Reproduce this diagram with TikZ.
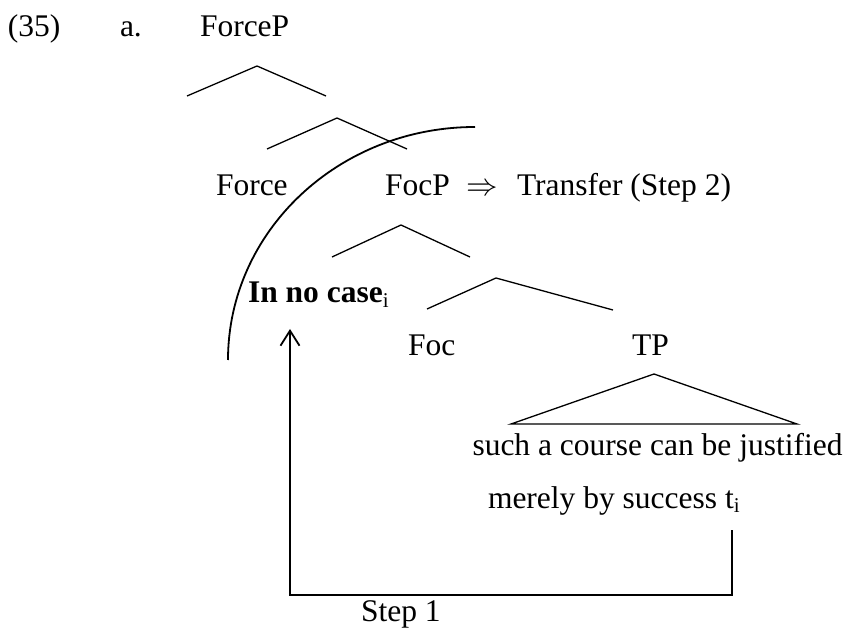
\RequirePackage{fix-cm}
\documentclass[tikz,border=0pt]{standalone}
\usepackage{fontspec}
\setmainfont{Liberation Serif}
\usetikzlibrary{arrows.meta}
% small lowered index, as on traces and moved phrases
\newcommand\idxsub[1]{\raisebox{-4.5pt}{\fontsize{21}{22}\mdseries\selectfont #1}}
\begin{document}
\begin{tikzpicture}[x=1pt,y=-1pt,
  lbl/.style={anchor=base west,inner sep=0pt,outer sep=0pt,
              font=\fontsize{31.5}{36}\selectfont},
  branch/.style={line width=1.3pt,line join=miter},
  phase/.style={line width=1.8pt},
  move/.style={line width=1.8pt,line join=miter}]
\useasboundingbox (0,0) rectangle (852,628);

% example number and labels
\node[lbl] (num)    at (8,37)    {(35)};
\node[lbl] (item)   at (120,37)  {a.};
\node[lbl] (forcep) at (200,37)  {ForceP};
\node[lbl] (force)  at (216,196) {Force};
\node[lbl] (focp)   at (385,196) {FocP};
\node[lbl] (impl)   at (466,196) {$\Rightarrow$};
\node[lbl] (transfer) at (517,196) {Transfer (Step 2)};
\node[lbl] (spec)   at (248,303) {\textbf{In no case}\idxsub{i}};
\node[lbl] (foc)    at (408,356) {Foc};
\node[lbl] (tp)     at (632,356) {TP};
\node[lbl] (line1)  at (472.5,456) {such a course can be justified};
\node[lbl] (line2)  at (488,508) {merely by success t\idxsub{i}};
\node[lbl] (step)   at (361,621) {Step 1};

% branching points of the tree
\coordinate (l1) at (187,96);  \coordinate (a1) at (257,66);  \coordinate (r1) at (326,96);
\coordinate (l2) at (267,149); \coordinate (a2) at (337,118); \coordinate (r2) at (407,149);
\coordinate (l3) at (332,257); \coordinate (a3) at (401,225); \coordinate (r3) at (470,257);
\coordinate (l4) at (427,309); \coordinate (a4) at (496,278); \coordinate (r4) at (613,310);
\coordinate (l5) at (511,424); \coordinate (a5) at (654,374); \coordinate (r5) at (797,424);

\draw[branch] (l1) -- (a1) -- (r1);
\draw[branch] (l2) -- (a2) -- (r2);
\draw[branch] (l3) -- (a3) -- (r3);
\draw[branch] (l4) -- (a4) -- (r4);
\draw[branch] (l5) -- (a5) -- (r5) -- cycle;

% phase boundary
\coordinate (arcA) at (228,360);
\coordinate (arcB) at (475,127);
\draw[phase] (arcA) .. controls (228,231.3) and (338.6,127) .. (arcB);

% movement path from the trace to the focus position
\coordinate (trace) at (732,530);
\coordinate (cornerR) at (732,595);
\coordinate (cornerL) at (290,595);
\coordinate (landing) at (290,329);
\draw[move,-{Straight Barb[length=15pt,width=19pt]}]
  (trace) -- (cornerR) -- (cornerL) -- (landing);
\end{tikzpicture}
\end{document}
